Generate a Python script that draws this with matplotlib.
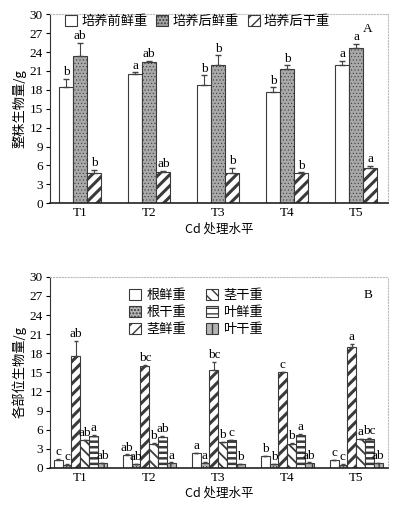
import matplotlib
matplotlib.use("Agg")
import matplotlib.pyplot as plt
import numpy as np

plt.rcParams['font.family'] = ['Liberation Serif', 'Noto Sans CJK SC']

groups = ['T1', 'T2', 'T3', 'T4', 'T5']

# Panel A
a_names = ['培养前鲜重', '培养后鲜重', '培养后干重']
a_pre = [18.4, 20.5, 18.7, 17.6, 21.9]
a_pre_err = [1.3, 0.3, 1.6, 0.8, 0.7]
a_post = [23.4, 22.4, 21.9, 21.3, 24.7]
a_post_err = [2.1, 0.2, 1.6, 0.6, 0.6]
a_dry = [4.8, 5.0, 4.8, 4.8, 5.6]
a_dry_err = [0.5, 0.1, 0.8, 0.1, 0.3]
a_pre_sig = ['b', 'a', 'b', 'b', 'a']
a_post_sig = ['ab', 'ab', 'b', 'b', 'a']
a_dry_sig = ['b', 'ab', 'b', 'b', 'a']

# Panel B
b_names = ['根鲜重', '根干重', '茎鲜重', '茎干重', '叶鲜重', '叶干重']
b_root_fresh = [1.3, 2.0, 2.3, 1.8, 1.2]
b_root_fresh_err = [0.1, 0.1, 0.1, 0.1, 0.1]
b_root_dry = [0.5, 0.6, 0.8, 0.6, 0.5]
b_root_dry_err = [0.05, 0.05, 0.05, 0.05, 0.05]
b_stem_fresh = [17.5, 16.0, 15.4, 15.0, 19.0]
b_stem_fresh_err = [2.5, 0.1, 1.3, 0.1, 0.4]
b_stem_dry = [4.3, 3.8, 4.0, 3.8, 4.5]
b_stem_dry_err = [0.1, 0.1, 0.1, 0.1, 0.1]
b_leaf_fresh = [5.0, 4.9, 4.3, 5.2, 4.6]
b_leaf_fresh_err = [0.1, 0.1, 0.1, 0.1, 0.1]
b_leaf_dry = [0.7, 0.8, 0.6, 0.8, 0.7]
b_leaf_dry_err = [0.05, 0.05, 0.05, 0.05, 0.05]
b_sig = [
    ['c', 'ab', 'a', 'b', 'c'],
    ['c', 'ab', 'a', 'b', 'c'],
    ['ab', 'bc', 'bc', 'c', 'a'],
    ['ab', 'b', 'b', 'b', 'a'],
    ['a', 'ab', 'c', 'a', 'bc'],
    ['ab', 'a', 'b', 'ab', 'ab'],
]

fig = plt.figure(figsize=(3.93, 5.08), dpi=100)
axA = fig.add_axes([0.127, 0.600, 0.86, 0.372])
axB = fig.add_axes([0.127, 0.079, 0.86, 0.376])

x = np.arange(1, len(groups) + 1)
CJK = ['Noto Sans CJK SC', 'Liberation Serif']
FS = 9.5


def style(ax, ylabel, letter, ly):
    ax.set_ylim(0, 30)
    ax.set_yticks(np.arange(0, 31, 3))
    ax.set_xlim(0.56, 5.46)
    ax.set_xticks(x)
    ax.set_xticklabels(groups, fontsize=FS)
    ax.tick_params(axis='y', labelsize=FS, direction='out', length=3, pad=2)
    ax.tick_params(axis='x', length=0, pad=3)
    for s in ['top', 'right']:
        ax.spines[s].set_color('#bbbbbb')
        ax.spines[s].set_linestyle(':')
    ax.spines['left'].set_color('#333333')
    ax.spines['bottom'].set_color('#222222')
    ax.spines['bottom'].set_linewidth(1.2)
    ax.set_ylabel(ylabel, family=CJK, fontsize=FS, labelpad=2)
    ax.set_xlabel('Cd 处理水平', family=CJK, fontsize=9, labelpad=2)
    ax.text(0.955, ly, letter, transform=ax.transAxes, fontsize=FS, ha='right', va='center')


def draw_bar(ax, pos, vals, w, fc, h, hlw, label, ec='#3a3a3a'):
    with plt.rc_context({'hatch.linewidth': hlw}):
        b = ax.bar(pos, vals, w, color=fc, edgecolor=ec, hatch=h, linewidth=0.8,
                   label=label)
    for p in b.patches:
        if hasattr(p, 'set_hatch_linewidth'):
            p.set_hatch_linewidth(hlw)
    return b


# Panel A
wA = 0.205
seriesA = [(a_pre, a_pre_err, a_pre_sig, 'white', '', 1.0),
           (a_post, a_post_err, a_post_sig, '#a9a9a9', '.....', 0.4),
           (a_dry, a_dry_err, a_dry_sig, 'white', '///', 2.2)]
for i, (vals, errs, sig, fc, h, hlw) in enumerate(seriesA):
    pos = x + (i - 1) * wA
    draw_bar(axA, pos, vals, wA, fc, h, hlw, a_names[i])
    axA.errorbar(pos, vals, yerr=[np.zeros(len(errs)), errs], fmt='none',
                 ecolor='#444444', elinewidth=0.8, capsize=2)
    for p, v, e, s in zip(pos, vals, errs, sig):
        axA.text(p, v + e + 0.1, s, ha='center', va='bottom', fontsize=FS)
style(axA, '整株生物量/g', 'A', 0.92)
axA.legend(loc='upper left', bbox_to_anchor=(0.01, 1.06), ncol=3, frameon=False,
           prop={'family': CJK, 'size': FS}, handlelength=0.9, handleheight=0.9,
           handletextpad=0.3, columnspacing=0.7)

# Panel B
wB = 0.128
seriesB = [(b_root_fresh, b_root_fresh_err, 'white', '', 1.0),
           (b_root_dry, b_root_dry_err, '#b5b5b5', '.....', 0.4),
           (b_stem_fresh, b_stem_fresh_err, 'white', '///', 2.2),
           (b_stem_dry, b_stem_dry_err, 'white', '\\\\\\', 1.3),
           (b_leaf_fresh, b_leaf_fresh_err, 'white', '---', 1.8),
           (b_leaf_dry, b_leaf_dry_err, '#b5b5b5', '||', 1.0)]
handles = []
for i, (vals, errs, fc, h, hlw) in enumerate(seriesB):
    pos = x + (i - 2.5) * wB
    b = draw_bar(axB, pos, vals, wB, fc, h, hlw, b_names[i])
    handles.append(b)
    axB.errorbar(pos, vals, yerr=[np.zeros(len(errs)), errs], fmt='none',
                 ecolor='#444444', elinewidth=0.8, capsize=1.5)
    for p, v, e, s in zip(pos, vals, errs, b_sig[i]):
        axB.text(p, v + e + 0.15, s, ha='center', va='bottom', fontsize=FS)
style(axB, '各部位生物量/g', 'B', 0.905)
axB.legend(handles, b_names,
           loc='upper left', bbox_to_anchor=(0.2, 1.0), ncol=2, frameon=False,
           prop={'family': CJK, 'size': FS}, handlelength=0.9, handleheight=0.9,
           handletextpad=0.4, columnspacing=1.5, labelspacing=0.3)

fig.savefig('out.png', dpi=100)
